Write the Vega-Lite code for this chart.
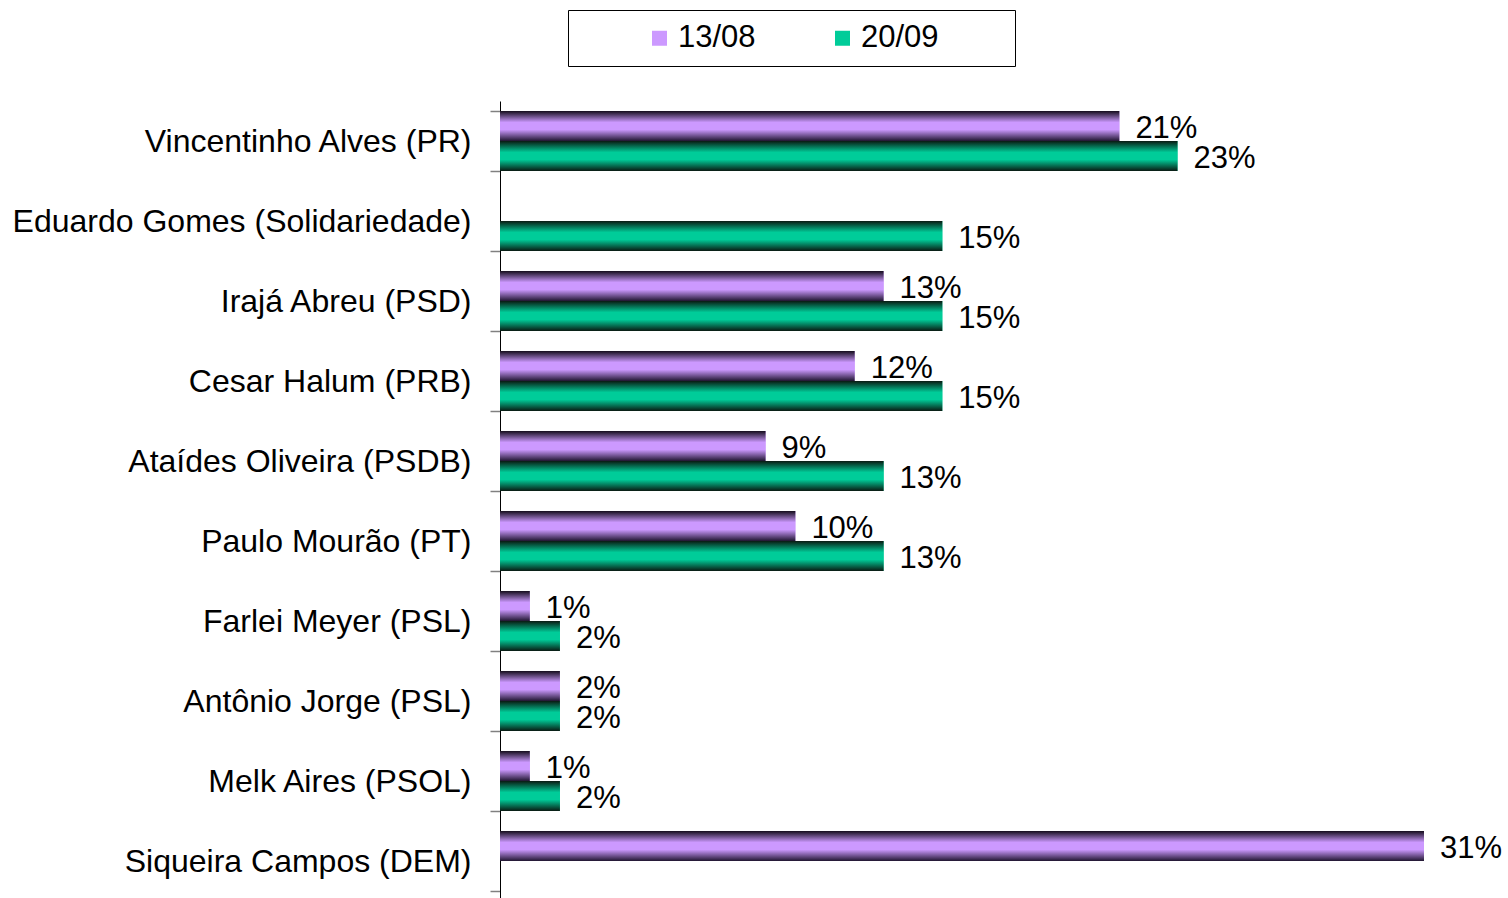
{
  "$schema": "https://vega.github.io/schema/vega-lite/v6.json",
  "width": 924,
  "height": 800,
  "autosize": {"type": "none"},
  "padding": {"left": 500, "top": 101, "right": 84, "bottom": 0},
  "background": "white",
  "title": {
    "text": "escolha para o voto de Senador se a eleição fosse hoje? (ESTIMULADA SENADO – SEGUNDO VOTO)",
    "anchor": "start",
    "frame": "group",
    "dx": -502,
    "dy": 5,
    "offset": 6,
    "baseline": "alphabetic",
    "fontSize": 19,
    "fontWeight": "normal",
    "font": "Liberation Sans",
    "color": "black"
  },
  "data": {
    "values": [
      {"candidato": "Vincentinho Alves (PR)", "data": "13/08", "valor": 0.2078},
      {"candidato": "Vincentinho Alves (PR)", "data": "20/09", "valor": 0.2273},
      {"candidato": "Eduardo Gomes (Solidariedade)", "data": "20/09", "valor": 0.1484},
      {"candidato": "Irajá Abreu (PSD)", "data": "13/08", "valor": 0.1287},
      {"candidato": "Irajá Abreu (PSD)", "data": "20/09", "valor": 0.1484},
      {"candidato": "Cesar Halum (PRB)", "data": "13/08", "valor": 0.119},
      {"candidato": "Cesar Halum (PRB)", "data": "20/09", "valor": 0.1484},
      {"candidato": "Ataídes Oliveira (PSDB)", "data": "13/08", "valor": 0.0891},
      {"candidato": "Ataídes Oliveira (PSDB)", "data": "20/09", "valor": 0.1287},
      {"candidato": "Paulo Mourão (PT)", "data": "13/08", "valor": 0.0991},
      {"candidato": "Paulo Mourão (PT)", "data": "20/09", "valor": 0.1287},
      {"candidato": "Farlei Meyer (PSL)", "data": "13/08", "valor": 0.01},
      {"candidato": "Farlei Meyer (PSL)", "data": "20/09", "valor": 0.0201},
      {"candidato": "Antônio Jorge (PSL)", "data": "13/08", "valor": 0.0201},
      {"candidato": "Antônio Jorge (PSL)", "data": "20/09", "valor": 0.0201},
      {"candidato": "Melk Aires (PSOL)", "data": "13/08", "valor": 0.01},
      {"candidato": "Melk Aires (PSOL)", "data": "20/09", "valor": 0.0201},
      {"candidato": "Siqueira Campos (DEM)", "data": "13/08", "valor": 0.31}
    ]
  },
  "encoding": {
    "y": {
      "field": "candidato",
      "type": "nominal",
      "sort": null,
      "scale": {
        "domain": [
          "Vincentinho Alves (PR)",
          "Eduardo Gomes (Solidariedade)",
          "Irajá Abreu (PSD)",
          "Cesar Halum (PRB)",
          "Ataídes Oliveira (PSDB)",
          "Paulo Mourão (PT)",
          "Farlei Meyer (PSL)",
          "Antônio Jorge (PSL)",
          "Melk Aires (PSOL)",
          "Siqueira Campos (DEM)"
        ],
        "paddingInner": 0.25,
        "paddingOuter": 0.125
      },
      "axis": {
        "title": null,
        "domainColor": "black",
        "domainWidth": 1,
        "tickColor": "#808080",
        "tickWidth": 1.5,
        "tickSize": 10,
        "tickBand": "extent",
        "labelFont": "Liberation Sans",
        "labelFontSize": 32,
        "labelColor": "black",
        "labelPadding": 19,
        "labelLimit": 0
      }
    },
    "yOffset": {
      "field": "data",
      "type": "nominal",
      "sort": ["13/08", "20/09"],
      "scale": {"domain": ["13/08", "20/09"], "paddingInner": 0, "paddingOuter": 0}
    },
    "x": {
      "field": "valor",
      "type": "quantitative",
      "scale": {"domain": [0, 0.31], "nice": false},
      "axis": null
    }
  },
  "layer": [
    {
      "mark": {"type": "bar", "strokeWidth": 0},
      "encoding": {
        "color": {
          "field": "data",
          "type": "nominal",
          "scale": {"domain": ["13/08", "20/09"], "range": ["#cc99ff", "#00cc99"]},
          "legend": {
            "orient": "none",
            "legendX": 68,
            "legendY": -91,
            "direction": "horizontal",
            "title": "\u00a0",
            "titleOrient": "right",
            "titlePadding": 63.5,
            "titleFontSize": 10,
            "padding": 12.5,
            "strokeColor": "black",
            "symbolType": "square",
            "symbolSize": 225,
            "symbolStrokeWidth": 0,
            "symbolOffset": 63.5,
            "columnPadding": 7,
            "labelOffset": 3,
            "labelFont": "Liberation Sans",
            "labelFontSize": 31,
            "labelColor": "black"
          }
        }
      }
    },
    {
      "transform": [{"filter": "datum.data === '13/08'"}],
      "mark": {
        "type": "bar",
        "strokeWidth": 0,
        "color": {"gradient": "linear", "x1": 0, "y1": 0, "x2": 0, "y2": 1,
          "stops": [
            {"offset": 0, "color": "#140c1c"},
            {"offset": 0.38, "color": "#cc99ff"},
            {"offset": 0.62, "color": "#cc99ff"},
            {"offset": 1, "color": "#201630"}
          ]}
      }
    },
    {
      "transform": [{"filter": "datum.data === '20/09'"}],
      "mark": {
        "type": "bar",
        "strokeWidth": 0,
        "color": {"gradient": "linear", "x1": 0, "y1": 0, "x2": 0, "y2": 1,
          "stops": [
            {"offset": 0, "color": "#0a1a12"},
            {"offset": 0.38, "color": "#00cc99"},
            {"offset": 0.62, "color": "#00cc99"},
            {"offset": 1, "color": "#0a1a12"}
          ]}
      }
    },
    {
      "mark": {
        "type": "text",
        "align": "left",
        "baseline": "middle",
        "dx": 16,
        "dy": 3,
        "font": "Liberation Sans",
        "fontSize": 31,
        "color": "black"
      },
      "encoding": {
        "text": {"field": "valor", "type": "quantitative", "format": ".0%"}
      }
    }
  ],
  "config": {"view": {"stroke": null}}
}
